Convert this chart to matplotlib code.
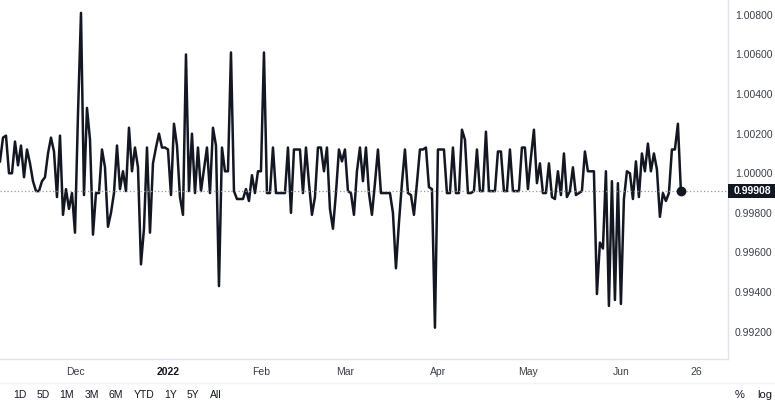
import numpy as np
import pandas as pd
import matplotlib
matplotlib.use("Agg")
import matplotlib.pyplot as plt
import matplotlib.transforms as mtransforms
from matplotlib.patches import Rectangle

plt.rcParams['font.family'] = ['Liberation Sans', 'DejaVu Sans']

# Daily close prices (first bar ~ 6 Nov 2021)
start_date = "2021-11-06"
prices = [
    1.0006, 1.0018, 1.0019, 1.0000, 1.0000, 1.0016, 1.0004, 1.0014, 0.9998, 1.0012,
    1.0005, 0.9996, 0.9991, 0.9991, 0.9996, 0.9998, 1.0010, 1.0018, 1.0011, 0.9988,
    1.0019, 0.9979, 0.9992, 0.9982, 0.9990, 0.9970, 1.0030, 1.0081, 0.9989, 1.0033,
    1.0017, 0.9969, 0.9990, 0.9990, 1.0012, 1.0003, 0.9973, 0.9980, 0.9990, 1.0014,
    0.9992, 1.0001, 0.9991, 1.0023, 1.0001, 1.0013, 1.0003, 0.9954, 0.9972, 1.0013,
    0.9970, 1.0005, 1.0013, 1.0020, 1.0013, 1.0013, 1.0012, 0.9989, 1.0025, 1.0014,
    0.9988, 0.9979, 1.0060, 0.9991, 1.0020, 0.9990, 1.0013, 0.9991, 1.0002, 1.0013,
    0.9990, 1.0023, 1.0014, 0.9943, 1.0013, 1.0001, 1.0001, 1.0061, 0.9991, 0.9987,
    0.9987, 0.9987, 0.9992, 0.9986, 0.9999, 0.9990, 1.0001, 1.0001, 1.0061, 0.9990,
    0.9990, 1.0013, 0.9990, 0.9990, 0.9990, 0.9990, 1.0013, 0.9980, 1.0012, 1.0012,
    1.0012, 0.9990, 1.0013, 0.9995, 0.9979, 0.9988, 1.0013, 1.0013, 1.0001, 1.0013,
    0.9982, 0.9972, 0.9990, 1.0012, 1.0006, 1.0012, 0.9991, 0.9990, 0.9979, 1.0001,
    1.0013, 0.9996, 1.0013, 0.9990, 0.9979, 0.9995, 1.0012, 0.9990, 0.9990, 0.9990,
    0.9990, 0.9980, 0.9952, 0.9975, 0.9995, 1.0012, 0.9990, 0.9989, 0.9979, 0.9995,
    1.0012, 1.0012, 1.0013, 0.9993, 0.9992, 0.9922, 1.0012, 1.0012, 1.0012, 0.9990,
    0.9990, 1.0013, 0.9990, 0.9990, 1.0022, 1.0017, 0.9990, 0.9990, 0.9991, 1.0012,
    0.9991, 0.9991, 1.0021, 0.9991, 0.9991, 0.9991, 1.0011, 1.0011, 0.9991, 0.9991,
    1.0012, 0.9991, 0.9991, 0.9991, 1.0013, 1.0013, 0.9992, 1.0008, 1.0022, 0.9995,
    1.0005, 0.9990, 0.9990, 1.0005, 0.9988, 0.9987, 1.0001, 0.9989, 1.0010, 0.9988,
    0.9991, 1.0003, 0.9989, 0.9990, 0.9991, 1.0011, 1.0001, 1.0001, 1.0001, 0.9939,
    0.9965, 0.9962, 1.0001, 0.9933, 0.9996, 0.9936, 0.9995, 0.9934, 0.9987, 1.0001,
    1.0000, 0.9987, 1.0006, 0.9988, 1.0010, 1.0001, 1.0015, 1.0001, 1.0010, 1.0002,
    0.9978, 0.9990, 0.9986, 0.9990, 1.0012, 1.0012, 1.0025, 0.99908,
]
last_label = "0.99908"

y_ticks = [0.992, 0.994, 0.996, 0.998, 1.000, 1.002, 1.004, 1.006, 1.008]
x_tick_dates = ["2021-12-01", "2022-01-01", "2022-02-01", "2022-03-01",
                "2022-04-01", "2022-05-01", "2022-06-01", "2022-06-26"]
x_tick_labels = ["Dec", "2022", "Feb", "Mar", "Apr", "May", "Jun", "26"]
range_buttons = ["1D", "5D", "1M", "3M", "6M", "YTD", "1Y", "5Y", "All"]

ink = "#131722"
soft = "#3b3f4a"
frame = "#e0e3eb"

dates = pd.date_range(start_date, periods=len(prices), freq="D")

W, H = 775, 409
fig = plt.figure(figsize=(W / 100, H / 100), dpi=100)
fig.patch.set_facecolor("white")
ax = fig.add_axes([0, 1 - 359 / H, 728 / W, 359 / H])

ax.plot(dates, prices, color=ink, lw=1.8)
ax.axhline(prices[-1], color="#9598a1", lw=0.9, ls=(0, (1, 1.8)), clip_on=False)
ax.plot(dates[-1], prices[-1], "o", ms=6, color=ink)

ax.set_xlim(dates[0], dates[0] + pd.Timedelta(days=242.7))
ax.set_ylim(0.99062, 1.00875)

# price scale on the right
ax.yaxis.tick_right()
ax.set_yticks(y_ticks)
ax.set_yticklabels([f"{v:.5f}" for v in y_ticks])
ax.tick_params(axis="y", length=0, pad=5, labelsize=7.5, labelcolor=soft)

ax.set_xticks(pd.to_datetime(x_tick_dates))
ax.set_xticklabels(x_tick_labels)
ax.tick_params(axis="x", length=0, pad=6, labelsize=7.5, labelcolor=soft)
ax.get_xticklabels()[1].set_fontweight("bold")
ax.get_xticklabels()[1].set_color(ink)

for side in ["top", "left"]:
    ax.spines[side].set_visible(False)
for side in ["right", "bottom"]:
    ax.spines[side].set_color(frame)
    ax.spines[side].set_linewidth(1)

# last price tag
trans = mtransforms.blended_transform_factory(ax.transAxes, ax.transData)
units_per_px = (ax.get_ylim()[1] - ax.get_ylim()[0]) / 359
tag_h = 14 * units_per_px
ax.add_patch(Rectangle((1.0, prices[-1] - tag_h / 2), 47 / 728, tag_h,
                       transform=trans, facecolor=ink, edgecolor="none",
                       clip_on=False, zorder=5))
ax.text(1.0 + 6 / 728, prices[-1], last_label, transform=trans, ha="left",
        va="center", color="white", fontsize=7.5, fontweight="bold",
        clip_on=False, zorder=6)

# separator under the time scale and range toolbar
fig.add_artist(plt.Line2D([0, 1], [1 - 383 / H, 1 - 383 / H], color="#f0f3fa", lw=1))
renderer = fig.canvas.get_renderer()
x_px = 13
for name in range_buttons:
    t = fig.text(x_px / W, 1 - 395 / H, name, ha="left", va="center",
                 fontsize=7.5, color=ink)
    x_px += t.get_window_extent(renderer).width + 10
fig.text(740 / W, 1 - 395 / H, "%", ha="center", va="center", fontsize=8, color=ink)
fig.text(765 / W, 1 - 395 / H, "log", ha="center", va="center", fontsize=8, color=ink)

fig.savefig("out.png", dpi=100)
